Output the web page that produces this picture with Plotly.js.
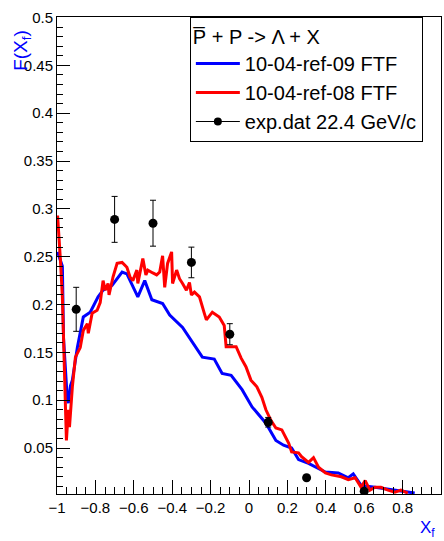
<!DOCTYPE html>
<html>
<head>
<meta charset="utf-8">
<script src="https://cdn.plot.ly/plotly-3.0.1.min.js"></script>
<style>html,body{margin:0;padding:0;background:#fff;}#chart{width:444px;height:541px;}</style>
</head>
<body>
<div id="chart"></div>
<script>
// Blue curve: 10-04-ref-09 FTF
const blueX = [-0.997,-0.972,-0.966,-0.956,-0.946,-0.941,-0.93,-0.92,-0.894,-0.863,-0.827,-0.786,-0.76,-0.713,-0.661,-0.636,-0.579,-0.543,-0.506,-0.45,-0.413,-0.346,-0.295,-0.243,-0.181,-0.14,-0.093,-0.036,0.016,0.088,0.14,0.18,0.222,0.258,0.31,0.398,0.465,0.517,0.543,0.584,0.656,0.724,0.775,0.863];
const blueY = [0.255,0.24,0.165,0.13,0.10,0.097,0.115,0.121,0.155,0.187,0.192,0.208,0.215,0.220,0.234,0.232,0.208,0.225,0.205,0.201,0.189,0.176,0.160,0.145,0.143,0.128,0.126,0.111,0.093,0.076,0.058,0.053,0.050,0.038,0.034,0.025,0.024,0.019,0.023,0.011,0.009,0.007,0.006,0.003];

// Red curve: 10-04-ref-08 FTF
const redX = [-0.997,-0.992,-0.982,-0.972,-0.961,-0.951,-0.941,-0.935,-0.92,-0.904,-0.879,-0.863,-0.842,-0.837,-0.817,-0.791,-0.775,-0.760,-0.749,-0.734,-0.729,-0.708,-0.687,-0.661,-0.636,-0.62,-0.605,-0.584,-0.579,-0.553,-0.537,-0.527,-0.501,-0.481,-0.465,-0.45,-0.439,-0.424,-0.403,-0.398,-0.377,-0.362,-0.346,-0.326,-0.31,-0.3,-0.284,-0.258,-0.233,-0.222,-0.191,-0.155,-0.129,-0.119,-0.067,-0.041,-0.016,0.01,0.041,0.067,0.088,0.114,0.14,0.171,0.207,0.222,0.258,0.274,0.31,0.336,0.362,0.398,0.429,0.481,0.517,0.553,0.584,0.605,0.63,0.656,0.687,0.724,0.76,0.791,0.827];
const redY = [0.293,0.28,0.246,0.208,0.135,0.058,0.09,0.072,0.114,0.145,0.155,0.173,0.18,0.17,0.191,0.194,0.202,0.225,0.215,0.222,0.21,0.229,0.243,0.244,0.239,0.229,0.225,0.236,0.222,0.248,0.231,0.236,0.233,0.231,0.234,0.251,0.218,0.243,0.255,0.222,0.236,0.227,0.222,0.215,0.223,0.21,0.213,0.208,0.191,0.184,0.192,0.187,0.178,0.156,0.156,0.144,0.135,0.121,0.114,0.103,0.09,0.079,0.071,0.069,0.055,0.046,0.045,0.041,0.035,0.04,0.03,0.024,0.022,0.02,0.017,0.019,0.009,0.016,0.006,0.009,0.009,0.006,0.004,0.006,0.003];

// Experimental data: exp.dat 22.4 GeV/c
const expX = [-0.9,-0.7,-0.5,-0.3,-0.1,0.1,0.3,0.6];
const expY = [0.195,0.289,0.285,0.244,0.169,0.077,0.019,0.005];
const expErr = [0.023,0.024,0.024,0.016,0.011,0.005,0.002,0.002];

const seriesNames = ["10-04-ref-09 FTF","10-04-ref-08 FTF","exp.dat 22.4 GeV/c"];
const legendHeader = "P\u0305 + P -> \u039B + X";

const FONT = "Liberation Sans, Arial, Helvetica, sans-serif";

const traces = [
  {x: blueX, y: blueY, type: 'scatter', mode: 'lines', name: seriesNames[0],
   line: {color: '#0000ff', width: 3}},
  {x: redX, y: redY, type: 'scatter', mode: 'lines', name: seriesNames[1],
   line: {color: '#ff0000', width: 3}},
  {x: expX, y: expY, type: 'scatter', mode: 'markers', name: seriesNames[2], showlegend: false,
   marker: {color: '#000', size: 9},
   error_y: {type: 'data', array: expErr, visible: true, color: '#000', thickness: 1, width: 3}},
  {x: [null], y: [null], type: 'scatter', mode: 'lines+markers', name: seriesNames[2],
   line: {color: '#000', width: 1}, marker: {color: '#000', size: 8}}
];

const layout = {
  width: 444, height: 541,
  paper_bgcolor: '#fff', plot_bgcolor: '#fff',
  margin: {l: 57, r: 3, t: 17, b: 47},
  font: {family: FONT, color: '#000'},
  showlegend: true,
  legend: {
    x: 0.346, y: 1.0, xanchor: 'left', yanchor: 'top',
    bgcolor: '#fff', bordercolor: '#000', borderwidth: 1,
    font: {family: FONT, size: 20, color: '#000'},
    title: {text: legendHeader, font: {family: FONT, size: 20, color: '#000'}},
    traceorder: 'normal', itemwidth: 44
  },
  xaxis: {
    range: [-1, 1], dtick: 0.2, tick0: 0,
    ticks: 'inside', ticklen: 14, tickcolor: '#000', tickwidth: 1,
    minor: {dtick: 0.05, ticks: 'inside', ticklen: 7, tickcolor: '#000', tickwidth: 1},
    showline: true, linecolor: '#000', linewidth: 1, mirror: true,
    showgrid: false, zeroline: false,
    tickfont: {family: FONT, size: 15, color: '#000'}
  },
  yaxis: {
    range: [0.002, 0.5005], dtick: 0.05, tick0: 0,
    ticks: 'inside', ticklen: 13, tickcolor: '#000', tickwidth: 1,
    minor: {dtick: 0.01, ticks: 'inside', ticklen: 6, tickcolor: '#000', tickwidth: 1},
    showline: true, linecolor: '#000', linewidth: 1, mirror: true,
    showgrid: false, zeroline: false,
    tickfont: {family: FONT, size: 15, color: '#000'}
  },
  annotations: [
    {text: 'F(X<sub>f</sub>)', xref: 'paper', yref: 'paper', x: -0.09, y: 0.93,
     xanchor: 'center', yanchor: 'middle', textangle: -90, showarrow: false,
     font: {family: FONT, size: 19, color: '#0000ff'}},
    {text: 'X<sub>f</sub>', xref: 'paper', yref: 'paper', x: 0.966, y: -0.074,
     xanchor: 'center', yanchor: 'middle', showarrow: false,
     font: {family: FONT, size: 17, color: '#0000ff'}}
  ]
};

Plotly.newPlot('chart', traces, layout, {displayModeBar: false, staticPlot: true});
</script>
</body>
</html>
